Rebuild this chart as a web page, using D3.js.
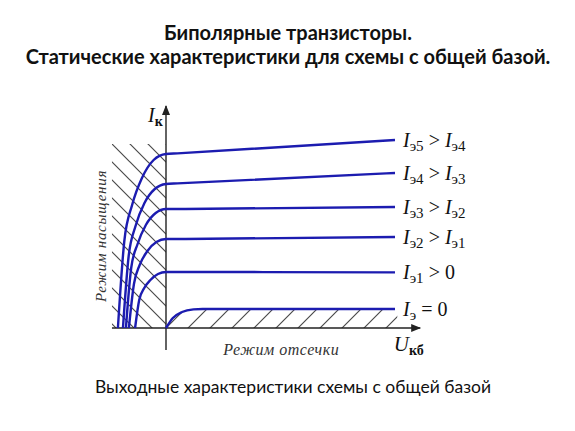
<!DOCTYPE html>
<html>
<head>
<meta charset="utf-8">
<script src="https://cdn.jsdelivr.net/npm/d3@7"></script>
<style>
  html, body { margin: 0; padding: 0; background: #fff; }
  svg { display: block; }
</style>
</head>
<body>
<div id="chart"></div>
<script>
// Заголовки
const titleLines = ["Биполярные транзисторы.", "Статические характеристики  для схемы с общей базой."];
const caption = "Выходные характеристики схемы с общей базой";

// Кривые: [Uкб, Iк] в условных единицах
const curveIe5 = [[-2.1, 0], [-1.82, 4.35], [-1.48, 6.15], [-1.05, 7.5], [-0.54, 8.4], [0, 8.7], [0.5, 8.73], [10, 9.4]];
const curveIe4 = [[-1.88, 0], [-1.63, 3.6], [-1.33, 5.1], [-0.94, 6.25], [-0.49, 6.95], [0, 7.2], [0.5, 7.23], [10, 7.75]];
const curveIe3 = [[-1.75, 0], [-1.52, 3.0], [-1.24, 4.2], [-0.88, 5.15], [-0.45, 5.75], [0, 5.95], [0.5, 5.95], [10, 6.05]];
const curveIe2 = [[-1.62, 0], [-1.4, 2.2], [-1.15, 3.15], [-0.81, 3.85], [-0.42, 4.3], [0, 4.45], [0.5, 4.45], [10, 4.55]];
const curveIe1 = [[-1.35, 0], [-1.17, 1.4], [-0.95, 2.0], [-0.68, 2.4], [-0.35, 2.7], [0, 2.8], [0.5, 2.8], [10, 2.78]];
const curveIe0 = [[0, 0], [0.3, 0.5], [0.7, 0.8], [1.2, 0.93], [1.6, 0.95], [10, 0.95]];

const curves = [curveIe5, curveIe4, curveIe3, curveIe2, curveIe1, curveIe0];
// подписи кривых: [индекс слева, знак, правая часть, индекс справа]
const curveLabels = [
  ["э5", ">", "I", "э4"],
  ["э4", ">", "I", "э3"],
  ["э3", ">", "I", "э2"],
  ["э2", ">", "I", "э1"],
  ["э1", ">", "0", ""],
  ["э", "=", "0", ""]
];

// Области
const saturationZone = { x0: -2.36, x1: 0, y0: 0, y1: 9.2 };
const axisExtent = { xMin: -2.36, xMax: 11.1, yMin: -1.1, yMax: 11.1 };

const W = 575, H = 431;
const x = d3.scaleLinear().domain([0, 10]).range([166, 395]);
const y = d3.scaleLinear().domain([0, 10]).range([328, 128]);

const svg = d3.select("#chart").append("svg")
  .attr("width", W).attr("height", H);

const defs = svg.append("defs");

// штриховка "\"
const hatchA = defs.append("pattern")
  .attr("id", "hatchA").attr("patternUnits", "userSpaceOnUse")
  .attr("x", 112).attr("y", 144).attr("width", 18).attr("height", 18);
hatchA.append("path")
  .attr("d", "M-2,-2L20,20M16,-2L20,2M-2,16L2,20")
  .attr("stroke", "#4a4a4a").attr("stroke-width", 1.2);

// штриховка "/"
const hatchB = defs.append("pattern")
  .attr("id", "hatchB").attr("patternUnits", "userSpaceOnUse")
  .attr("x", 166).attr("y", 328).attr("width", 22).attr("height", 22);
hatchB.append("path")
  .attr("d", "M-2,24L24,-2M-2,2L2,-2M20,24L24,20")
  .attr("stroke", "#4a4a4a").attr("stroke-width", 1.2);

const marker = defs.append("marker")
  .attr("id", "arrow").attr("viewBox", "0 0 10 8")
  .attr("refX", 9).attr("refY", 4)
  .attr("markerWidth", 10).attr("markerHeight", 8)
  .attr("markerUnits", "userSpaceOnUse")
  .attr("orient", "auto");
marker.append("path").attr("d", "M0,0L10,4L0,8z").attr("fill", "#222");

// заголовок
svg.append("g").selectAll("text")
  .data(titleLines)
  .join("text")
  .attr("x", 288)
  .attr("y", (d, i) => 40 + i * 24)
  .attr("text-anchor", "middle")
  .style("font", "bold 20px Lato, 'Open Sans', sans-serif")
  .attr("fill", "#111")
  .text(d => d);

// область насыщения
svg.append("rect")
  .attr("x", x(saturationZone.x0))
  .attr("y", y(saturationZone.y1))
  .attr("width", x(saturationZone.x1) - x(saturationZone.x0))
  .attr("height", y(saturationZone.y0) - y(saturationZone.y1))
  .attr("fill", "url(#hatchA)");

// область отсечки
const cutArea = d3.area()
  .x(d => x(d[0])).y0(y(0)).y1(d => y(d[1]))
  .curve(d3.curveMonotoneX);
svg.append("path")
  .datum(curveIe0.map(d => d[0] === 10 ? [10.1, d[1]] : d))
  .attr("d", cutArea)
  .attr("fill", "url(#hatchB)");

// оси
const axisStyle = sel => sel.attr("stroke", "#222").attr("stroke-width", 1.4).attr("marker-end", "url(#arrow)");
svg.append("line")
  .attr("x1", x(axisExtent.xMin)).attr("x2", x(axisExtent.xMax))
  .attr("y1", y(0)).attr("y2", y(0))
  .call(axisStyle);
svg.append("line")
  .attr("x1", x(0)).attr("x2", x(0))
  .attr("y1", y(axisExtent.yMin)).attr("y2", y(axisExtent.yMax))
  .call(axisStyle);

// кривые
const line = d3.line().x(d => x(d[0])).y(d => y(d[1])).curve(d3.curveMonotoneX);
svg.append("g").selectAll("path")
  .data(curves)
  .join("path")
  .attr("d", line)
  .attr("fill", "none")
  .attr("stroke", "#1c1cb0")
  .attr("stroke-width", 2.4);

// подписи кривых
const serif = "'Liberation Serif', 'Times New Roman', serif";
const labels = svg.append("g")
  .style("font-family", serif)
  .attr("fill", "#111");
curves.forEach((c, i) => {
  const last = c[c.length - 1];
  const [sub1, op, right, sub2] = curveLabels[i];
  const t = labels.append("text")
    .attr("x", x(last[0]) + 8)
    .attr("y", y(last[1]) + 7)
    .style("font-size", "20px");
  t.append("tspan").style("font-style", "italic").text("I");
  t.append("tspan").attr("dy", 4).style("font-size", "15px").text(sub1);
  t.append("tspan").attr("dy", -4).text(" " + op + " ");
  if (right === "I") {
    t.append("tspan").style("font-style", "italic").text("I");
    t.append("tspan").attr("dy", 4).style("font-size", "15px").text(sub2);
  } else {
    t.append("tspan").text(right);
  }
});

// подписи осей
const ik = svg.append("text")
  .attr("x", x(0) - 18).attr("y", y(10.3))
  .style("font-family", serif).style("font-size", "20px").attr("fill", "#111");
ik.append("tspan").style("font-style", "italic").text("I");
ik.append("tspan").attr("dy", 4).style("font-size", "14px").style("font-weight", "bold").text("к");

const uk = svg.append("text")
  .attr("x", x(9.95)).attr("y", y(-1.15))
  .style("font-family", serif).style("font-size", "21px").attr("fill", "#111");
uk.append("tspan").style("font-style", "italic").text("U");
uk.append("tspan").attr("dy", 4).style("font-size", "14px").style("font-weight", "bold").text("кб");

svg.append("text")
  .attr("x", x(2.5)).attr("y", y(-1.35))
  .style("font", "italic 16px " + serif)
  .attr("fill", "#333")
  .attr("letter-spacing", 0.5)
  .text("Режим отсечки");

svg.append("text")
  .attr("transform", `translate(${x(-2.62)},${y(4.6)}) rotate(-90)`)
  .attr("text-anchor", "middle")
  .style("font", "italic 15px " + serif)
  .attr("fill", "#333")
  .attr("letter-spacing", 0.7)
  .text("Режим насыщения");

// подпись снизу
svg.append("text")
  .attr("x", 293).attr("y", 393)
  .attr("text-anchor", "middle")
  .style("font", "17.5px Lato, 'Open Sans', sans-serif")
  .attr("fill", "#111")
  .text(caption);
</script>
</body>
</html>
